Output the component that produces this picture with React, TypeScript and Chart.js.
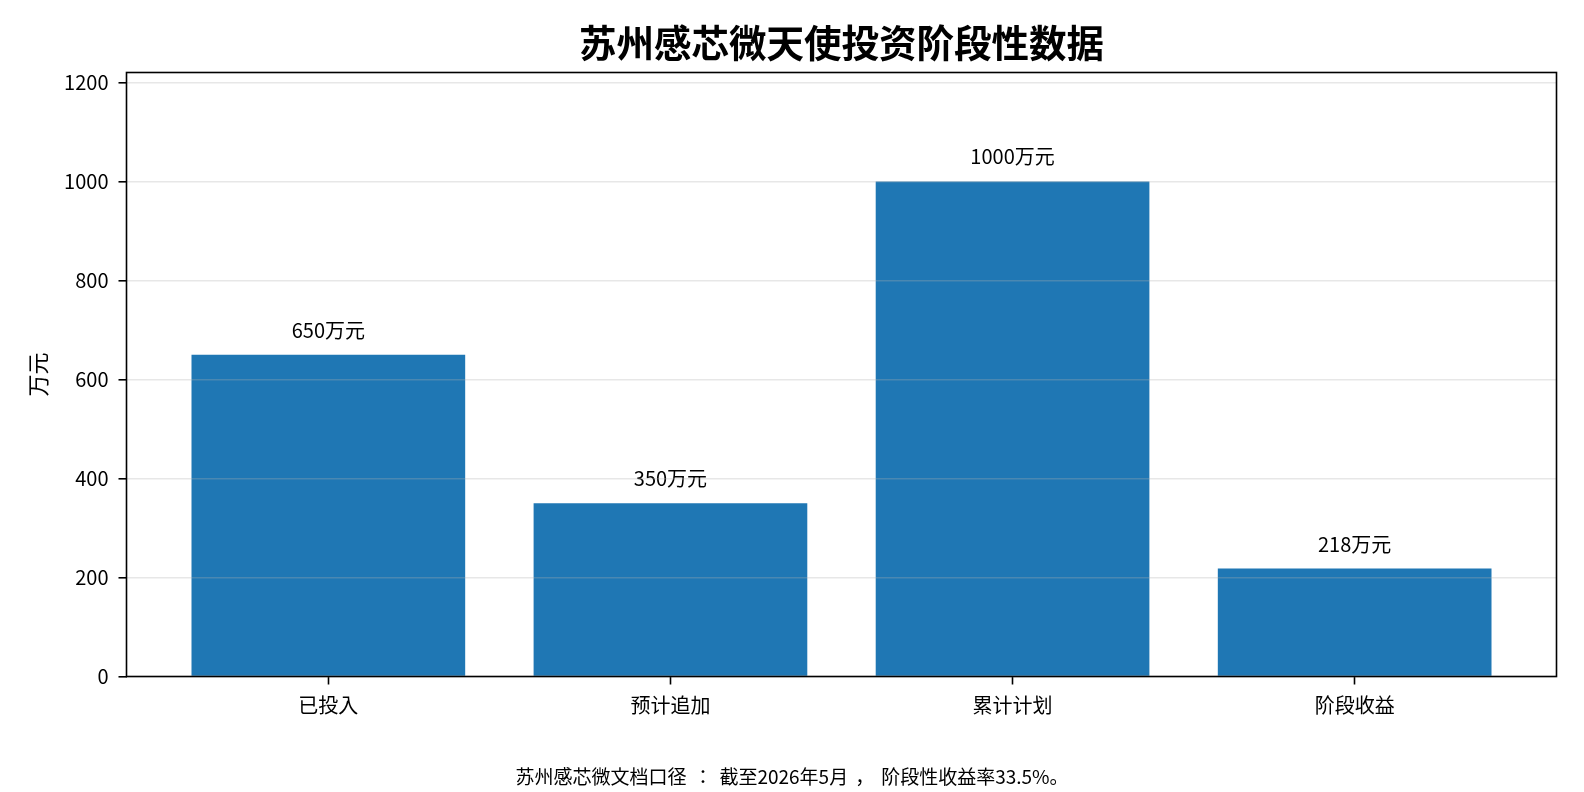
import React, { useEffect, useRef } from 'react';
import { Chart, registerables } from 'chart.js';

Chart.register(...registerables);

// Funding stages (万元)
const categories = ['已投入', '预计追加', '累计计划', '阶段收益'];
const amounts = [650, 350, 1000, 218];
const yTickValues = [0, 200, 400, 600, 800, 1000, 1200];
const yMax = 1220;
const xMin = -0.59;
const xMax = 3.59;

const titleText = '苏州感芯微天使投资阶段性数据';
const yAxisLabel = '万元';
const unitSuffix = '万元';
const footnote = '苏州感芯微文档口径：截至2026年5月，阶段性收益率33.5%。';

const FONT = '"Noto Sans CJK JP", "Noto Sans CJK SC", "Noto Sans", sans-serif';
const BAR_COLOR = '#1f77b4';
const WIDE_PUNCT = '：，';

// Draws a line of text centered on cx one glyph at a time, restoring the
// full-width advance of CJK punctuation.
function drawSpacedText(ctx: CanvasRenderingContext2D, text: string, cx: number, y: number, extra: number) {
  const chars = Array.from(text);
  const widths = chars.map((c) => ctx.measureText(c).width + (WIDE_PUNCT.includes(c) ? extra : 0));
  const total = widths.reduce((a, b) => a + b, 0);
  let x = cx - total / 2;
  ctx.textAlign = 'left';
  chars.forEach((c, i) => {
    const pad = WIDE_PUNCT.includes(c) ? extra / 2 : 0;
    ctx.fillText(c, x + pad, y);
    x += widths[i];
  });
}

const decorations = {
  id: 'decorations',
  afterDatasetsDraw(chart: any) {
    const ctx = chart.ctx as CanvasRenderingContext2D;
    const meta = chart.getDatasetMeta(0);
    ctx.save();
    ctx.font = `20px ${FONT}`;
    ctx.fillStyle = '#000';
    ctx.textAlign = 'center';
    ctx.textBaseline = 'alphabetic';
    meta.data.forEach((bar: any, i: number) => {
      ctx.fillText(`${amounts[i]}${unitSuffix}`, bar.x, bar.y - 17);
    });
    ctx.restore();
  },
  afterDraw(chart: any) {
    const ctx = chart.ctx as CanvasRenderingContext2D;
    const { left, right, top, bottom } = chart.chartArea;
    ctx.save();
    // axes frame
    ctx.strokeStyle = '#000';
    ctx.lineWidth = 1.6;
    ctx.strokeRect(left, top, right - left, bottom - top);

    // title
    ctx.fillStyle = '#000';
    ctx.textAlign = 'center';
    ctx.textBaseline = 'middle';
    ctx.font = `bold 37.5px ${FONT}`;
    ctx.fillText(titleText, (left + right) / 2, 43);

    // y axis label
    ctx.save();
    ctx.translate(38, (top + bottom) / 2);
    ctx.rotate(-Math.PI / 2);
    ctx.font = `22px ${FONT}`;
    ctx.textAlign = 'center';
    ctx.textBaseline = 'middle';
    ctx.fillText(yAxisLabel, 0, 0);
    ctx.restore();

    // footnote
    ctx.font = `19px ${FONT}`;
    ctx.textBaseline = 'middle';
    drawSpacedText(ctx, footnote, chart.width / 2, 777, 14);
    ctx.restore();
  },
};

export default function App() {
  const canvasRef = useRef<HTMLCanvasElement | null>(null);

  useEffect(() => {
    const canvas = canvasRef.current;
    if (!canvas) return;
    const chart = new Chart(canvas, {
      type: 'bar',
      data: {
        datasets: [
          {
            data: amounts.map((v, i) => ({ x: i, y: v })),
            backgroundColor: BAR_COLOR,
            borderWidth: 0,
            barPercentage: 0.8,
            categoryPercentage: 1,
          },
        ],
      },
      options: {
        responsive: false,
        animation: false,
        layout: { padding: { left: 0, right: 27.5, top: 72.5, bottom: 0 } },
        plugins: {
          legend: { display: false },
          title: { display: false },
          tooltip: { enabled: false },
        },
        scales: {
          x: {
            type: 'linear',
            min: xMin,
            max: xMax,
            offset: false,
            afterBuildTicks: (scale: any) => {
              scale.ticks = categories.map((_, i) => ({ value: i }));
            },
            afterFit: (scale: any) => {
              scale.height = 115.5;
            },
            ticks: {
              autoSkip: false,
              maxRotation: 0,
              padding: 9,
              color: '#000',
              font: { family: FONT, size: 20 },
              callback: (value: any) => categories[Number(value)] ?? '',
            },
            grid: {
              offset: false,
              drawOnChartArea: false,
              drawTicks: true,
              tickLength: 8,
              tickColor: '#000',
              tickWidth: 1.6,
            },
            border: { display: false },
          },
          y: {
            type: 'linear',
            min: 0,
            max: yMax,
            afterBuildTicks: (scale: any) => {
              scale.ticks = yTickValues.map((v) => ({ value: v }));
            },
            afterFit: (scale: any) => {
              scale.width = 126.5;
            },
            ticks: {
              padding: 10,
              color: '#000',
              font: { family: FONT, size: 20 },
              callback: (value: any) => String(value),
            },
            grid: {
              z: 1,
              color: 'rgba(176,176,176,0.3)',
              lineWidth: 1.6,
              drawTicks: true,
              tickLength: 8,
              tickColor: '#000',
              tickWidth: 1.6,
            },
            border: { display: false },
          },
        },
      },
      plugins: [decorations],
    } as any);
    return () => chart.destroy();
  }, []);

  return (
    <div style={{ position: 'fixed', left: 0, top: 0, width: 1584, height: 792, background: '#fff' }}>
      <canvas ref={canvasRef} width={1584} height={792} style={{ display: 'block' }} />
    </div>
  );
}
